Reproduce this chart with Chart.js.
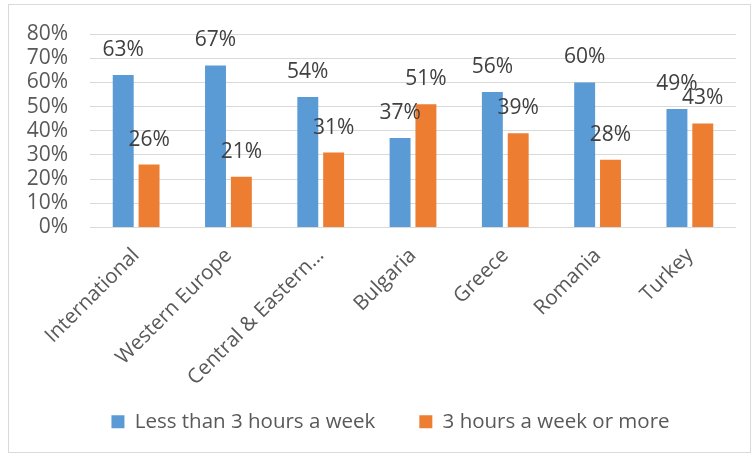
<!DOCTYPE html>
<html>
<head>
<meta charset="utf-8">
<script src="https://cdn.jsdelivr.net/npm/chart.js@4.4.1/dist/chart.umd.min.js"></script>
<style>
  html, body { margin: 0; padding: 0; background: #fff; }
  #box {
    position: absolute; left: 8px; top: 4px;
    width: 741px; height: 447px;
    border: 1px solid #d9d9d9;
  }
</style>
</head>
<body>
<div id="box"><canvas id="chart"></canvas></div>
<script>
const categories = ['International', 'Western Europe', 'Central & Eastern…', 'Bulgaria', 'Greece', 'Romania', 'Turkey'];
const lessThan3 = [63, 67, 54, 37, 56, 60, 49];
const threeOrMore = [26, 21, 31, 51, 39, 28, 43];
const yTicks = [0, 10, 20, 30, 40, 50, 60, 70, 80];

const FONT = '"Open Sans", sans-serif';

// value labels above each bar, Excel style
const barLabels = {
    id: 'barLabels',
    afterDatasetsDraw(chart) {
        const ctx = chart.ctx;
        ctx.save();
        ctx.font = '21px ' + FONT;
        ctx.fillStyle = '#404040';
        ctx.textAlign = 'center';
        ctx.textBaseline = 'middle';
        chart.data.datasets.forEach((ds, i) => {
            chart.getDatasetMeta(i).data.forEach((bar, j) => {
                ctx.fillText(ds.data[j] + '%', bar.x, bar.y - 25);
            });
        });
        ctx.restore();
    }
};

// nudge the legend a bit to the right, like the original
const legendShift = {
    id: 'legendShift',
    afterLayout(chart) {
        chart.legend.left += 18;
        chart.legend.right += 18;
    }
};

const ctx = document.getElementById('chart').getContext('2d');
new Chart(ctx, {
    type: 'bar',
    data: {
        labels: categories,
        datasets: [
            { label: 'Less than 3 hours a week', data: lessThan3, backgroundColor: '#5b9bd5' },
            { label: '3 hours a week or more', data: threeOrMore, backgroundColor: '#ed7d31' }
        ]
    },
    options: {
        responsive: true,
        maintainAspectRatio: false,
        animation: false,
        categoryPercentage: 0.56,
        barPercentage: 0.81,
        layout: { padding: { top: 29, right: 14, left: 0, bottom: 10 } },
        plugins: {
            tooltip: { enabled: false },
            legend: {
                position: 'bottom',
                labels: {
                    boxWidth: 13,
                    boxHeight: 13,
                    padding: 44,
                    color: '#595959',
                    font: { family: FONT, size: 20.5 }
                }
            }
        },
        scales: {
            x: {
                grid: { display: false },
                border: { display: false },
                ticks: {
                    minRotation: 45,
                    maxRotation: 45,
                    padding: 8,
                    color: '#595959',
                    font: { family: FONT, size: 20.5 }
                },
                afterFit(scale) {
                    scale.height = 140;
                    // long rotated labels run past the axis box, don't clip them
                    scale._computeLabelArea = () => null;
                }
            },
            y: {
                min: 0,
                max: 80,
                afterBuildTicks(scale) { scale.ticks = yTicks.map(v => ({ value: v })); },
                grid: { color: '#d9d9d9', drawTicks: false },
                border: { display: false },
                ticks: {
                    autoSkip: false,
                    padding: 22,
                    color: '#595959',
                    font: { family: FONT, size: 21 },
                    callback: v => v + '%'
                },
                afterFit(scale) {
                    scale.width = 81;
                    scale.paddingTop = 0;
                    scale.paddingBottom = 0;
                }
            }
        }
    },
    plugins: [barLabels, legendShift]
});
</script>
</body>
</html>
